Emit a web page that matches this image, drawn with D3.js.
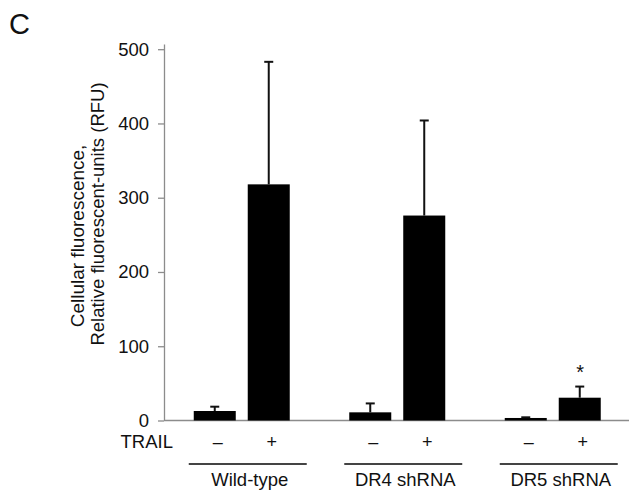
<!DOCTYPE html>
<html>
<head>
<meta charset="utf-8">
<script src="https://cdn.jsdelivr.net/npm/d3@7"></script>
<style>
  body { margin: 0; background: #fff; }
  text { font-family: "Liberation Sans", Arial, sans-serif; fill: #111; }
</style>
</head>
<body>
<div id="chart"></div>
<script>
// data
var groups = ["Wild-type", "DR4 shRNA", "DR5 shRNA"];
var treatments = ["–", "+"];
var means = [12.8, 318, 11, 276, 3.4, 30.7];
var errors = [5.8, 165, 12, 128, 0.9, 15];
var yTicks = [0, 100, 200, 300, 400, 500];
var starred = ["DR5 shRNA|+"];

var width = 629, height = 504;

var svg = d3.select("#chart")
  .append("svg")
    .attr("width", width)
    .attr("height", height);

var rows = [];
groups.forEach(function (g, i) {
  treatments.forEach(function (t, j) {
    rows.push({group: g, trail: t, mean: means[i * 2 + j], err: errors[i * 2 + j]});
  });
});

// scales
var x0 = d3.scaleBand()
  .domain(groups)
  .range([164, 630.5]);

var x1 = d3.scaleBand()
  .domain(treatments)
  .range([0, x0.bandwidth()])
  .paddingInner(0.222)
  .paddingOuter(0.551);

var y = d3.scaleLinear()
  .domain([0, 507])
  .range([420.5, 44]);

// y axis
var yAxis = svg.append("g")
  .attr("transform", "translate(164,0)")
  .call(d3.axisLeft(y).tickValues(yTicks).tickSize(6).tickSizeOuter(0).tickPadding(9));
yAxis.select(".domain").attr("stroke", "#8c8c8c").attr("stroke-width", 1.3);
yAxis.selectAll(".tick line").attr("stroke", "#8c8c8c").attr("stroke-width", 1.3);
yAxis.selectAll(".tick text")
  .style("font-size", "18.5px")
  .style("font-family", "'Liberation Sans', Arial, sans-serif")
  .attr("fill", "#111");

// baseline
svg.append("line")
  .attr("x1", 164).attr("x2", width)
  .attr("y1", y(0)).attr("y2", y(0))
  .attr("stroke", "#8c8c8c")
  .attr("stroke-width", 1.3);

// bars
var barX = function (d) { return x0(d.group) + x1(d.trail); };

svg.append("g")
  .selectAll("rect")
  .data(rows)
  .enter()
  .append("rect")
    .attr("x", barX)
    .attr("y", function (d) { return y(d.mean); })
    .attr("width", x1.bandwidth())
    .attr("height", function (d) { return y(0) - y(d.mean); })
    .attr("fill", "#000");

// error bars (upper only)
var eb = svg.append("g")
  .selectAll("g")
  .data(rows)
  .enter()
  .append("g");
eb.append("line")
  .attr("x1", function (d) { return barX(d) + x1.bandwidth() / 2; })
  .attr("x2", function (d) { return barX(d) + x1.bandwidth() / 2; })
  .attr("y1", function (d) { return y(d.mean); })
  .attr("y2", function (d) { return y(d.mean + d.err); })
  .attr("stroke", "#111")
  .attr("stroke-width", 2);
eb.append("line")
  .attr("x1", function (d) { return barX(d) + x1.bandwidth() / 2 - 4.5; })
  .attr("x2", function (d) { return barX(d) + x1.bandwidth() / 2 + 4.5; })
  .attr("y1", function (d) { return y(d.mean + d.err); })
  .attr("y2", function (d) { return y(d.mean + d.err); })
  .attr("stroke", "#111")
  .attr("stroke-width", 2);

// significance star
svg.append("g")
  .selectAll("text")
  .data(rows.filter(function (d) { return starred.indexOf(d.group + "|" + d.trail) >= 0; }))
  .enter()
  .append("text")
    .attr("x", function (d) { return barX(d) + x1.bandwidth() / 2 + 0.5; })
    .attr("y", function (d) { return y(d.mean + d.err) - 8; })
    .attr("text-anchor", "middle")
    .style("font-size", "20px")
    .text("*");

// TRAIL row
svg.append("text")
  .attr("x", 173)
  .attr("y", 448)
  .attr("text-anchor", "end")
  .style("font-size", "18.5px")
  .text("TRAIL");

svg.append("g")
  .selectAll("text")
  .data(rows)
  .enter()
  .append("text")
    .attr("x", function (d) { return barX(d) + x1.bandwidth() / 2 + 3; })
    .attr("y", 448)
    .attr("text-anchor", "middle")
    .style("font-size", "18px")
    .text(function (d) { return d.trail; });

// group brackets and labels
var grp = svg.append("g")
  .selectAll("g")
  .data(groups)
  .enter()
  .append("g");
grp.append("line")
  .attr("x1", function (d) { return x0(d) + x1("–") - 5; })
  .attr("x2", function (d) { return x0(d) + x1("+") + x1.bandwidth() + 17; })
  .attr("y1", 464)
  .attr("y2", 464)
  .attr("stroke", "#444")
  .attr("stroke-width", 2);
grp.append("text")
  .attr("x", function (d) { return x0(d) + x0.bandwidth() / 2 + 8; })
  .attr("y", 486)
  .attr("text-anchor", "middle")
  .style("font-size", "18.5px")
  .text(function (d) { return d; });

// y axis title
svg.append("text")
  .attr("transform", "translate(84,236) rotate(-90)")
  .attr("text-anchor", "middle")
  .style("font-size", "19px")
  .text("Cellular fluorescence,");
svg.append("text")
  .attr("transform", "translate(104,214) rotate(-90)")
  .attr("text-anchor", "middle")
  .style("font-size", "18.5px")
  .text("Relative fluorescent-units (RFU)");

// panel letter
svg.append("text")
  .attr("x", 9)
  .attr("y", 34)
  .style("font-size", "29px")
  .text("C");
</script>
</body>
</html>
